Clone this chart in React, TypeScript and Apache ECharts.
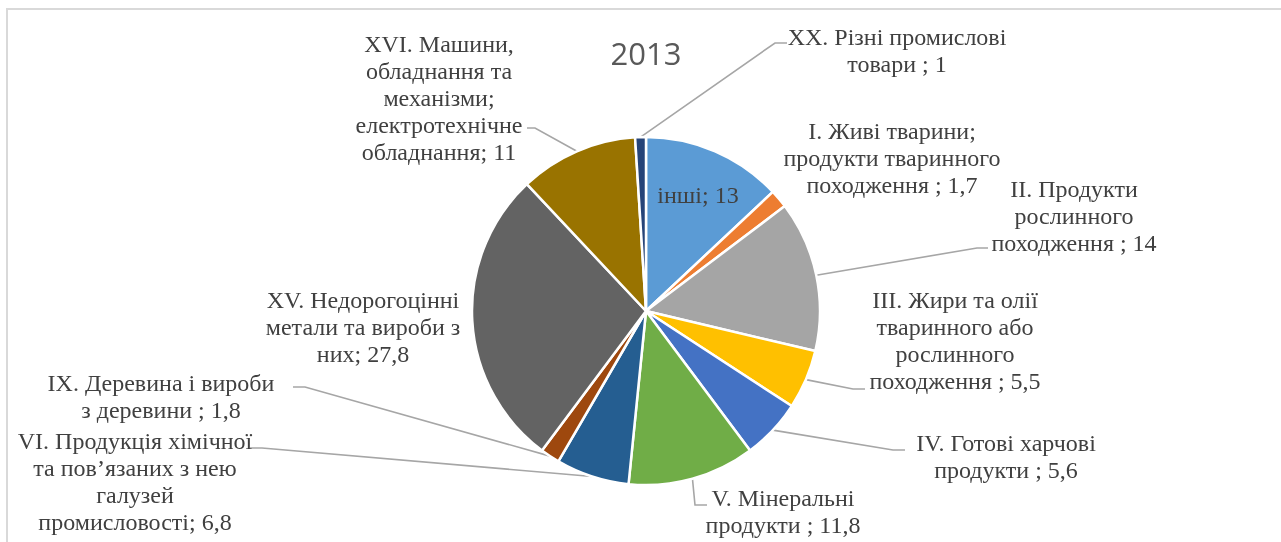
import React, { useEffect, useRef } from "react";
import * as echarts from "echarts";

const TITLE = "2013";

const CATEGORIES = [
  "інші;",
  "I. Живі тварини;\nпродукти тваринного\nпоходження ;",
  "II. Продукти\nрослинного\nпоходження ;",
  "III. Жири та олії\nтваринного або\nрослинного\nпоходження ;",
  "IV. Готові харчові\nпродукти ;",
  "V. Мінеральні\nпродукти ;",
  "VI. Продукція хімічної\nта пов’язаних з нею\nгалузей\nпромисловості;",
  "IX. Деревина і вироби\nз деревини ;",
  "XV. Недорогоцінні\nметали та вироби з\nних;",
  "XVI. Машини,\nобладнання та\nмеханізми;\nелектротехнічне\nобладнання;",
  "XX. Різні промислові\nтовари ;",
];

const VALUES = [13, 1.7, 14, 5.5, 5.6, 11.8, 6.8, 1.8, 27.8, 11, 1];

const COLORS = [
  "#5b9bd5",
  "#ed7d31",
  "#a5a5a5",
  "#ffc000",
  "#4472c4",
  "#70ad47",
  "#255e91",
  "#9e480e",
  "#636363",
  "#997300",
  "#264478",
];

// label placement (block centre) and leader elbow/end points
const LABEL_LAYOUT: { x: number; y: number; line?: number[][] }[] = [
  { x: 698, y: 195 },
  { x: 892, y: 158 },
  { x: 1074, y: 216, line: [[977, 248], [988, 248]] },
  { x: 955, y: 340, line: [[853, 389], [865, 389]] },
  { x: 1006, y: 456, line: [[893, 450], [905, 450]] },
  { x: 783, y: 511, line: [[695, 505], [707, 505]] },
  { x: 135, y: 481, line: [[262, 448], [250, 448]] },
  { x: 161, y: 396, line: [[305, 387], [293, 387]] },
  { x: 363, y: 327 },
  { x: 439, y: 98, line: [[535, 128], [527, 128]] },
  { x: 897, y: 50, line: [[775, 43], [787, 43]] },
];

export default function App() {
  const ref = useRef<HTMLDivElement>(null);

  useEffect(() => {
    if (!ref.current) return;
    const chart = echarts.init(ref.current, null, { renderer: "svg" });
    const data = CATEGORIES.map((name, i) => ({
      name,
      value: VALUES[i],
      itemStyle: { color: COLORS[i] },
      labelLine: { show: !!LABEL_LAYOUT[i].line },
    }));
    chart.setOption({
      animation: false,
      graphic: [
        {
          type: "text",
          x: 646,
          y: 53,
          style: {
            text: TITLE,
            align: "center",
            verticalAlign: "middle",
            fontFamily: "Open Sans",
            fontSize: 31,
            fill: "#595959",
          },
        },
      ],
      series: [
        {
          type: "pie",
          center: [646, 311],
          radius: 174,
          startAngle: 90,
          clockwise: true,
          avoidLabelOverlap: false,
          itemStyle: { borderColor: "#ffffff", borderWidth: 2.5 },
          label: {
            show: true,
            position: "outside",
            fontFamily: "Liberation Serif",
            fontSize: 24,
            lineHeight: 27,
            color: "#404040",
            formatter: (p: any) => `${p.name} ${String(p.value).replace(".", ",")}`,
          },
          labelLine: {
            show: true,
            length: 10,
            length2: 10,
            lineStyle: { color: "#a6a6a6", width: 1.6 },
          },
          labelLayout: (params: any) => {
            const L = LABEL_LAYOUT[params.dataIndex];
            const res: any = {
              x: L.x,
              y: L.y,
              align: "center",
              verticalAlign: "middle",
            };
            if (L.line && params.labelLinePoints && params.labelLinePoints[0]) {
              res.labelLinePoints = [params.labelLinePoints[0], L.line[0], L.line[1]];
            }
            return res;
          },
          data,
        },
      ],
    });
    return () => chart.dispose();
  }, []);

  return (
    <>
      <div
        style={{
          position: "fixed",
          left: 6,
          top: 8,
          width: 1400,
          height: 600,
          borderLeft: "2px solid #d9d9d9",
          borderTop: "2px solid #d9d9d9",
        }}
      />
      <div
        ref={ref}
        style={{ position: "fixed", left: 0, top: 0, width: 1281, height: 542 }}
      />
    </>
  );
}
